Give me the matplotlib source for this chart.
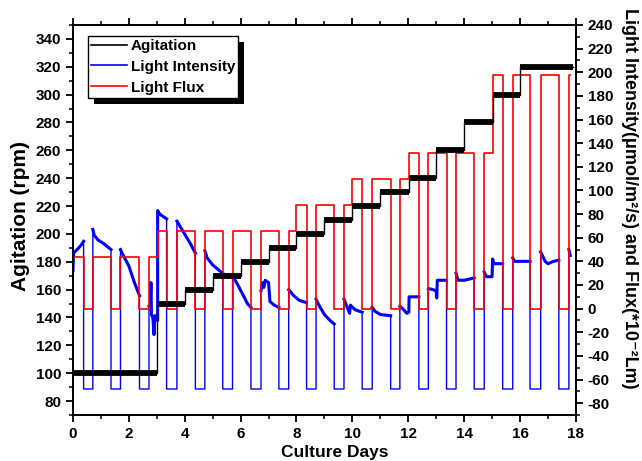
import numpy as np
import matplotlib
matplotlib.use('Agg')
import matplotlib.pyplot as plt
from matplotlib.ticker import MultipleLocator
from matplotlib.lines import Line2D
from matplotlib.patches import Rectangle

plt.rcParams['font.family'] = ['Liberation Sans', 'DejaVu Sans']
plt.rcParams['font.weight'] = 'bold'
plt.rcParams['axes.unicode_minus'] = False

# agitacion (rpm), escalones
agit_days = [0, 3.0, 4.0, 5.0, 6.0, 7.0, 8.0, 9.0, 10.0, 11.0, 12.04, 13.0, 14.0, 15.05, 16.0, 17.9]
agit_rpm = [100, 150, 160, 170, 180, 190, 200, 210, 220, 230, 240, 260, 280, 300, 320]

# periodos de luz (encendido / apagado)
light_on = [0, 0.71, 1.70, 2.72, 3.72, 4.72, 5.71, 6.73, 7.72, 8.70, 9.70, 10.71,
            11.70, 12.72, 13.71, 14.72, 15.74, 16.74, 17.75]
light_off = [0.38, 1.36, 2.38, 3.35, 4.38, 5.36, 6.37, 7.37, 8.36, 9.35, 10.35, 11.37,
             12.38, 13.37, 14.36, 15.38, 16.36, 17.39, 17.80]

# flujo de luz (*10^-2 Lm)
flux_days = [0, 3.03, 7.98, 10.0, 12.03, 15.02]
flux_level = [44, 66, 88, 110, 132, 198]

# intensidad de luz durante cada periodo de luz
int_t = [
    [0.0, 0.02, 0.15, 0.3, 0.38],
    [0.71, 0.76, 0.9, 1.1, 1.36],
    [1.70, 1.8, 2.0, 2.2, 2.38],
    [2.72, 2.76, 2.79, 2.81, 2.86, 2.9, 2.93, 3.0, 3.03, 3.03, 3.1, 3.35],
    [3.72, 4.0, 4.2, 4.38],
    [4.72, 4.8, 5.0, 5.2, 5.36],
    [5.71, 5.9, 6.1, 6.25, 6.37],
    [6.73, 6.78, 6.83, 6.88, 7.0, 7.05, 7.2, 7.37],
    [7.72, 7.9, 8.1, 8.36],
    [8.70, 8.8, 9.0, 9.2, 9.35],
    [9.70, 9.8, 9.9, 9.93, 10.1, 10.35],
    [10.71, 10.8, 11.0, 11.37],
    [11.70, 11.8, 11.95, 12.02, 12.03, 12.38],
    [12.72, 12.9, 13.0, 13.02, 13.04, 13.37],
    [13.71, 13.78, 14.0, 14.36],
    [14.72, 14.8, 15.0, 15.02, 15.06, 15.38],
    [15.74, 15.8, 16.36],
    [16.74, 16.9, 17.0, 17.2, 17.39],
    [17.75, 17.8],
]
int_v = [
    [32, 47, 50, 54, 57],
    [67, 62, 58, 55, 50],
    [50, 45, 36, 22, 11],
    [2, -1, 22, -5, -8, -22, -6, -9, -10, 83, 80, 76],
    [74, 63, 55, 47],
    [49, 43, 37, 33, 30],
    [28, 20, 11, 4, 1],
    [15, 22, 18, 24, 22, 6, 3, 1],
    [16, 11, 7, 5],
    [8, 3, -5, -10, -13],
    [8, 2, -4, 3, -1, -3],
    [1, -2, -5, -6],
    [2, 0, -4, -3, 10, 10],
    [17, 16, 15, 9, 24, 24],
    [30, 24, 24, 26],
    [31, 27, 27, 42, 38, 38],
    [43, 40, 40],
    [48, 40, 38, 40, 41],
    [50, 45],
]
dark_level = -68

# armo la curva de flujo (escalones)
tt = sorted(set(light_on + light_off[:-1] + flux_days))
flux_t, flux_v = [], []
for t in tt:
    lev = flux_level[np.searchsorted(flux_days, t, side='right') - 1]
    on = any(a <= t < b for a, b in zip(light_on, light_off))
    flux_t.append(t)
    flux_v.append(lev if on else 0)
flux_t.append(light_off[-1])
flux_v.append(flux_v[-1])

# curva de intensidad completa
it, iv = [], []
for i in range(len(int_t)):
    it += int_t[i]
    iv += int_v[i]
    if i + 1 < len(light_on):
        it += [light_off[i], light_on[i + 1]]
        iv += [dark_level, dark_level]

fig = plt.figure(figsize=(6.42, 4.61), dpi=100)
ax = fig.add_axes([0.1137, 0.0998, 0.7833, 0.846])
ax2 = ax.twinx()
ax.set_zorder(ax2.get_zorder() + 1)
ax.patch.set_visible(False)

# derecha: intensidad y flujo
ax2.plot(it, iv, color='#0000ff', lw=1.0)
for i in range(len(int_t)):
    ax2.plot(int_t[i], int_v[i], color='#0000ff', lw=2.2)
ax2.plot(flux_t, flux_v, drawstyle='steps-post', color='#ff0000', lw=1.2)

# izquierda: agitacion
ax.step(agit_days, agit_rpm + [agit_rpm[-1]], where='post', color='black', lw=1.0)
ax.hlines(agit_rpm, agit_days[:-1], agit_days[1:], color='black', lw=4.2)

ax.set_xlim(0, 18)
ax.set_ylim(70, 350)
ax2.set_ylim(-90, 240)

ax.xaxis.set_major_locator(MultipleLocator(2))
ax.xaxis.set_minor_locator(MultipleLocator(1))
ax.yaxis.set_minor_locator(MultipleLocator(10))
ax2.yaxis.set_minor_locator(MultipleLocator(10))
ax.set_yticks(np.arange(80, 341, 20))
ax2.set_yticks(np.arange(-80, 241, 20))

for a in (ax, ax2):
    a.tick_params(which='major', direction='out', length=5, width=1.3, labelsize=11)
    a.tick_params(which='minor', direction='out', length=3, width=1.1)
    for s in a.spines.values():
        s.set_linewidth(1.3)
ax.tick_params(axis='x', which='both', top=True)
ax.tick_params(axis='y', which='both', right=False)

for lab in ax.get_xticklabels() + ax.get_yticklabels() + ax2.get_yticklabels():
    lab.set_fontweight('bold')

ax.set_xlabel('Culture Days', fontsize=12.5, fontweight='bold', va='center', ha='center')
ax.xaxis.set_label_coords(0.521, -0.097)
ax.set_ylabel('Agitation (rpm)', fontsize=15, fontweight='bold', va='center', ha='center')
ax.yaxis.set_label_coords(-0.105, 0.51)
ax2.set_ylabel('Light Intensity(μmol/m²/s) and Flux(*10⁻²Lm)',
               fontsize=13, fontweight='bold', rotation=270, va='center', ha='center')
ax2.yaxis.set_label_coords(1.107, 0.556)

handles = [Line2D([], [], color='black', lw=1.2),
           Line2D([], [], color='#0000ff', lw=1.2),
           Line2D([], [], color='#ff0000', lw=1.2)]
leg = ax.legend(handles, ['Agitation', 'Light Intensity', 'Light Flux'],
                loc='upper left', bbox_to_anchor=(0.0298, 0.972), fancybox=False,
                framealpha=1, edgecolor='black', prop={'weight': 'bold', 'size': 11},
                handlelength=2.35, handletextpad=0.26, borderpad=0.2,
                labelspacing=0.45, borderaxespad=0)
leg.get_frame().set_linewidth(1.0)

# sombra negra de la leyenda
fig.canvas.draw()
bb = leg.get_window_extent()
sh = Rectangle((bb.x0 + 6, bb.y0 - 6), bb.width, bb.height, transform=None,
               facecolor='black', edgecolor='none', zorder=leg.get_zorder() - 0.1, clip_on=False)
ax.add_artist(sh)

fig.savefig('out.png', dpi=100)
